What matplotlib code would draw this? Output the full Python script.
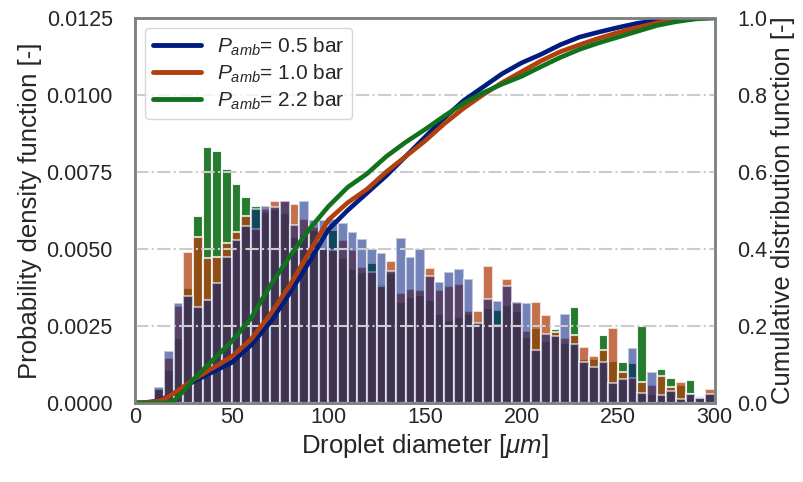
import numpy as np
import matplotlib
matplotlib.use("Agg")
import matplotlib.pyplot as plt

# histogram bins: left edges in um, width 5 um
bin_left = list(range(0, 300, 5))
bin_width = 5

pdf_05 = [0.0, 0.00005, 0.00053, 0.00169, 0.00324, 0.00347, 0.00313, 0.00334, 0.00389, 0.00475,
          0.00529, 0.00573, 0.00629, 0.0064, 0.00635, 0.00656, 0.00578, 0.00656, 0.00594, 0.00594,
          0.00597, 0.00584, 0.00554, 0.00532, 0.00499, 0.00486, 0.00428, 0.00535, 0.00475, 0.00499,
          0.00411, 0.00392, 0.00426, 0.00434, 0.00402, 0.0026, 0.00338, 0.00331, 0.00378, 0.00328,
          0.00324, 0.00172, 0.00223, 0.00216, 0.00288, 0.0019, 0.00132, 0.00118, 0.00134, 0.00064,
          0.00077, 0.00178, 0.00033, 0.00102, 0.00026, 0.0004, 0.00013, 0.00028, 0.00015, 0.00028]
pdf_10 = [0.0, 0.00005, 0.00045, 0.00146, 0.00315, 0.00491, 0.0054, 0.0047, 0.00475, 0.00518,
          0.00556, 0.00607, 0.00563, 0.0063, 0.00656, 0.00656, 0.00646, 0.00596, 0.0057, 0.005,
          0.00497, 0.00529, 0.00497, 0.0044, 0.00426, 0.00378, 0.00461, 0.00358, 0.00369, 0.00365,
          0.00437, 0.00367, 0.00381, 0.00386, 0.003, 0.00299, 0.00445, 0.00253, 0.00403, 0.00326,
          0.00232, 0.00329, 0.00286, 0.0023, 0.0021, 0.0022, 0.00183, 0.00153, 0.00172, 0.00243,
          0.00102, 0.00082, 0.00069, 0.00058, 0.00088, 0.00053, 0.00067, 0.00028, 0.00015, 0.00044]
pdf_22 = [0.0, 0.0, 0.00045, 0.00107, 0.0021, 0.00373, 0.00607, 0.0083, 0.00818, 0.00759,
          0.0071, 0.00667, 0.00638, 0.0062, 0.0063, 0.00616, 0.0054, 0.0055, 0.0056, 0.005,
          0.00562, 0.0047, 0.00434, 0.00426, 0.00454, 0.00386, 0.00422, 0.00329, 0.00345, 0.0035,
          0.00333, 0.00289, 0.00268, 0.00278, 0.0029, 0.00255, 0.00307, 0.00302, 0.00318, 0.003,
          0.00213, 0.00243, 0.00202, 0.00239, 0.00194, 0.0031, 0.00142, 0.00142, 0.00221, 0.00136,
          0.00134, 0.00129, 0.0025, 0.0003, 0.0011, 0.0008, 0.00058, 0.00075, 0.00024, 0.00028]

# cumulative distribution curves
cdf_x = [0, 5, 10, 15, 20, 25, 30, 40, 50, 60, 70, 80, 90, 100, 110, 120, 130, 140, 150, 160,
         170, 180, 190, 200, 210, 220, 230, 240, 250, 260, 270, 280, 290, 300]
cdf_05 = [0, 0.001, 0.004, 0.012, 0.025, 0.04, 0.055, 0.08, 0.105, 0.15, 0.21, 0.285, 0.365, 0.45,
          0.5, 0.545, 0.59, 0.64, 0.69, 0.74, 0.785, 0.82, 0.855, 0.883, 0.905, 0.93, 0.95, 0.963,
          0.975, 0.986, 0.993, 0.998, 1.0, 1.0]
cdf_10 = [0, 0.001, 0.003, 0.01, 0.025, 0.042, 0.06, 0.09, 0.12, 0.165, 0.23, 0.305, 0.39, 0.475,
          0.52, 0.555, 0.6, 0.64, 0.68, 0.725, 0.765, 0.8, 0.832, 0.86, 0.888, 0.912, 0.93, 0.947,
          0.962, 0.975, 0.987, 0.995, 1.0, 1.0]
cdf_22 = [0, 0, 0, 0, 0.005, 0.03, 0.06, 0.11, 0.16, 0.22, 0.305, 0.38, 0.45, 0.51,
          0.56, 0.595, 0.64, 0.677, 0.71, 0.745, 0.778, 0.805, 0.828, 0.848, 0.873, 0.897, 0.918, 0.935,
          0.95, 0.965, 0.98, 0.99, 0.997, 1.0]

labels = ["$P_{amb}$= 0.5 bar", "$P_{amb}$= 1.0 bar", "$P_{amb}$= 2.2 bar"]
colors = ["#001c7f", "#b1400d", "#12711c"]


def setup_style():
    plt.rcParams["font.family"] = ["Liberation Sans", "DejaVu Sans"]
    plt.rcParams["mathtext.fontset"] = "custom"
    plt.rcParams["mathtext.rm"] = "Liberation Sans"
    plt.rcParams["mathtext.it"] = "Liberation Sans:italic"
    plt.rcParams["text.color"] = "#262626"
    plt.rcParams["axes.labelcolor"] = "#262626"
    plt.rcParams["xtick.color"] = "#262626"
    plt.rcParams["ytick.color"] = "#262626"


def generate_graphics():
    fig = plt.figure(figsize=(8.04, 4.82), dpi=100)
    ax = fig.add_axes([0.168, 0.164, 0.721, 0.799])
    ax2 = ax.twinx()

    # histograms, green first so it sits under the others
    hist_order = [(pdf_22, colors[2], 0.92), (pdf_10, colors[1], 0.75), (pdf_05, colors[0], 0.55)]
    for pdf, c, a in hist_order:
        ax.bar(bin_left, pdf, width=bin_width, align="edge", color=c, alpha=a,
               edgecolor="white", linewidth=1.5)

    for cdf, c, lab in zip([cdf_05, cdf_10, cdf_22], colors, labels):
        ax2.plot(cdf_x, cdf, color=c, lw=3.3, label=lab, solid_capstyle="round")

    ax.set_xlim(0, 300)
    ax.set_ylim(0, 0.0125)
    ax2.set_ylim(0, 1.0)
    ax.set_yticks([0, 0.0025, 0.005, 0.0075, 0.01, 0.0125])
    ax.set_yticklabels(["0.0000", "0.0025", "0.0050", "0.0075", "0.0100", "0.0125"])
    ax2.set_yticks([0, 0.2, 0.4, 0.6, 0.8, 1.0])
    ax.set_xticks([0, 50, 100, 150, 200, 250, 300])

    ax.grid(False)
    ax2.grid(True, color="#cccccc", linestyle="-.", linewidth=1.5)
    ax2.xaxis.grid(True)

    for a in (ax, ax2):
        a.tick_params(axis="y", length=0, labelsize=15.5, pad=16)
        a.tick_params(axis="x", length=0, labelsize=15.5, pad=3)
        for s in a.spines.values():
            s.set_color("#808080")
            s.set_linewidth(1.8)

    ax.set_xlabel(r"Droplet diameter [$\mu m$]", fontsize=18.5, labelpad=3)
    ax.set_ylabel("Probability density function [-]", fontsize=18.5, labelpad=3)
    ax2.set_ylabel("Cumulative distribution function [-]", fontsize=18.5, labelpad=3)

    leg = ax2.legend(loc="upper left", fontsize=15, frameon=True, handlelength=2.3,
                     borderpad=0.35, labelspacing=0.22, fancybox=True)
    leg.get_frame().set_edgecolor("#cccccc")
    for line in leg.get_lines():
        line.set_linewidth(3.5)

    fig.savefig("out.png", dpi=100)


def main():
    setup_style()
    generate_graphics()


if __name__ == "__main__":
    main()
